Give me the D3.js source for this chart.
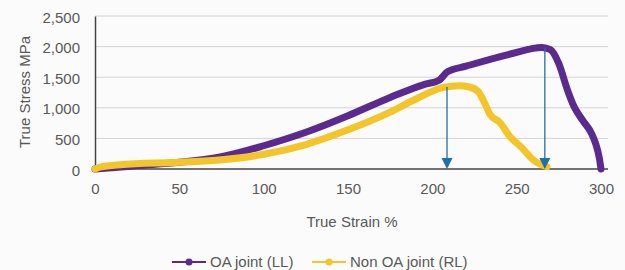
<!DOCTYPE html>
<html>
<head>
<meta charset="utf-8">
<script src="https://cdn.jsdelivr.net/npm/d3@7"></script>
<style>
body{margin:0;background:#fbfbfb}
text{font-family:"Liberation Sans",Arial,sans-serif;fill:#595959}
</style>
</head>
<body>
<div id="chart"></div>
<script>
var w = 625, h = 270

// OA joint (LL)
var oaStrain = [0,10,25,50,75,100,125,150,175,195,204,209,220,245,265,270,275,280,284,289,294,297,299,300]
var oaStress = [0,20,55,110,200,380,600,870,1170,1380,1450,1590,1680,1870,1985,1950,1720,1300,1020,800,600,400,180,0]
// Non OA joint (RL)
var nonStrain = [0,3,15,50,75,100,125,150,175,190,206,216,222,227,231,234,240,246,253,259,263,268]
var nonStress = [0,30,70,110,150,240,400,640,930,1140,1330,1360,1340,1270,1080,900,760,530,350,170,90,40]

var xTicks = [0,50,100,150,200,250,300]
var yTicks = [0,500,1000,1500,2000,2500]
// arrows dropped from the peaks
var arrowStrain = [208.7,266.7]
var arrowStress = [1340,1975]

var seriesNames = ["OA joint (LL)","Non OA joint (RL)"]
var colors = ["#5b2a8e","#f4c52a"]

var svg = d3.select("#chart").append("svg").attr("width",w).attr("height",h)

var x = d3.scaleLinear().domain([0,300]).range([95,601])
var y = d3.scaleLinear().domain([0,2500]).range([169,16])

// grid
svg.selectAll(".grid").data(yTicks.slice(1)).enter().append("line")
	.attr("x1",95).attr("x2",608)
	.attr("y1",function(d){return y(d)}).attr("y2",function(d){return y(d)})
	.attr("stroke","#d4d4d4").attr("stroke-width",1)

// y axis
var yAxis = svg.append("g").attr("transform","translate(95,0)")
	.call(d3.axisLeft(y).tickValues(yTicks).tickSize(0).tickPadding(15).tickFormat(d3.format(",")))
yAxis.select(".domain").attr("stroke","#444").attr("stroke-width",1.5)
yAxis.selectAll("text").style("font-size","15px").attr("fill","#595959").attr("dy","0.4em")

// x axis
var xAxis = svg.append("g").attr("transform","translate(0,169)")
	.call(d3.axisBottom(x).tickValues(xTicks).tickSize(0).tickPadding(14))
xAxis.select(".domain").remove()
svg.append("line").attr("x1",95).attr("x2",608).attr("y1",169).attr("y2",169)
	.attr("stroke","#444").attr("stroke-width",1.5)
xAxis.selectAll("text").style("font-size","15px").attr("fill","#595959")

// titles
svg.append("text").attr("x",352).attr("y",227).attr("text-anchor","middle")
	.style("font-size","15px").text("True Strain %")
svg.append("text").attr("transform","translate(30,92) rotate(-90)").attr("text-anchor","middle")
	.style("font-size","15px").text("True Stress MPa")

var line = d3.line()
	.x(function(d){return x(d[0])})
	.y(function(d){return y(d[1])})
	.curve(d3.curveMonotoneX)

var series = [d3.zip(oaStrain,oaStress), d3.zip(nonStrain,nonStress)]

svg.selectAll(".curve").data(series).enter().append("path")
	.attr("d",line)
	.attr("fill","none")
	.attr("stroke",function(d,i){return colors[i]})
	.attr("stroke-width",7)
	.attr("stroke-linecap","round")
	.attr("stroke-linejoin","round")

// blue arrows
var arrows = d3.zip(arrowStrain,arrowStress)
svg.selectAll(".arrow").data(arrows).enter().append("line")
	.attr("x1",function(d){return x(d[0])}).attr("x2",function(d){return x(d[0])})
	.attr("y1",function(d){return y(d[1])}).attr("y2",y(0)-8)
	.attr("stroke","#1f6fb0").attr("stroke-width",1.3)
svg.selectAll(".head").data(arrows).enter().append("path")
	.attr("d",function(d){
		var cx = x(d[0]), by = y(0)
		return "M"+(cx-5.5)+","+(by-11)+"L"+(cx+5.5)+","+(by-11)+"L"+cx+","+by+"Z"
	})
	.attr("fill","#1f6fb0")

// legend
var legX = [172,312]
var leg = svg.selectAll(".leg").data(seriesNames).enter().append("g")
	.attr("transform",function(d,i){return "translate("+legX[i]+",262)"})
leg.append("line").attr("x1",0).attr("x2",34).attr("y1",0).attr("y2",0)
	.attr("stroke",function(d,i){return colors[i]}).attr("stroke-width",2)
leg.append("circle").attr("cx",17).attr("cy",0).attr("r",3.5)
	.attr("fill",function(d,i){return colors[i]})
leg.append("text").attr("x",38).attr("y",5).style("font-size","15px").text(function(d){return d})
</script>
</body>
</html>
